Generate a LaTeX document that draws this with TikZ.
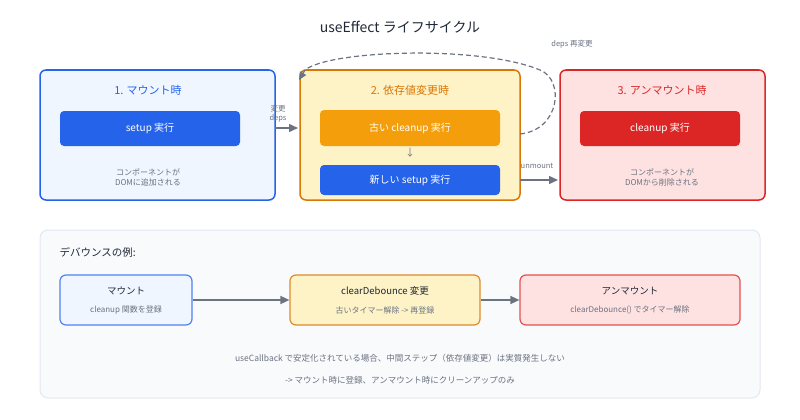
\documentclass[tikz,border=0pt]{standalone}
\usepackage{fontspec}
\setmainfont{Noto Sans CJK JP}
\usetikzlibrary{arrows.meta}
\definecolor{bfill}{HTML}{EFF6FF}\definecolor{bline}{HTML}{2563EB}
\definecolor{yfill}{HTML}{FEF3C7}\definecolor{yline}{HTML}{D97706}\definecolor{ybox}{HTML}{F59E0B}
\definecolor{rfill}{HTML}{FEE2E2}\definecolor{rline}{HTML}{DC2626}
\definecolor{gtxt}{HTML}{6B7280}\definecolor{dtxt}{HTML}{1F2937}\definecolor{arr}{HTML}{6B7280}
\definecolor{pfill}{HTML}{F8FAFC}\definecolor{pline}{HTML}{E2E8F0}
\begin{document}
\begin{tikzpicture}[x=1pt,y=-1pt,
 big/.style={draw,line width=1.5pt,rounded corners=6pt},
 inner/.style={rounded corners=4pt,text=white,font=\fontsize{10}{12}\selectfont},
 small/.style={draw,line width=1.2pt,rounded corners=6pt},
 ar/.style={-{Triangle[length=9pt,width=8pt]},line width=1.5pt,draw=arr},
 g/.style={text=gtxt,font=\fontsize{8}{10}\selectfont}]
\useasboundingbox (0,0) rectangle (800,420);
\node[text=dtxt,font=\fontsize{14}{16}\selectfont] (title) at (400,27) {useEffect ライフサイクル};
% boxes
\node[big,draw=bline,fill=bfill,minimum width=235pt,minimum height=130pt] (b1) at (157.5,135) {};
\node[big,draw=yline,fill=yfill,minimum width=220pt,minimum height=130pt] (b2) at (410,135) {};
\node[big,draw=rline,fill=rfill,minimum width=205pt,minimum height=130pt] (b3) at (662.5,135) {};
\node[text=bline,font=\fontsize{11}{13}\selectfont] (t1) at (148,90) {1. マウント時};
\node[text=yline,font=\fontsize{11}{13}\selectfont] (t2) at (410,90) {2. 依存値変更時};
\node[text=rline,font=\fontsize{11}{13}\selectfont] (t3) at (662,90) {3. アンマウント時};
\node[inner,fill=bline,minimum width=180pt,minimum height=35pt] (s1) at (150,128.5) {setup 実行};
\node[inner,fill=ybox,minimum width=180pt,minimum height=36pt] (c2) at (410,128) {古い cleanup 実行};
\node[text=gtxt,font=\fontsize{10}{12}\selectfont] (d2) at (410,153) {↓};
\node[inner,fill=bline,minimum width=180pt,minimum height=30pt] (s2) at (410,180) {新しい setup 実行};
\node[inner,fill=rline,minimum width=160pt,minimum height=35pt] (c3) at (660,128.5) {cleanup 実行};
\node[g,align=center] (n1) at (148,177) {コンポーネントが\\DOMに追加される};
\node[g,align=center] (n3) at (662,177) {コンポーネントが\\DOMから削除される};
% arrows
\coordinate (a1s) at (275,128); \coordinate (a1e) at (298,128);
\draw[ar] (a1s) -- (a1e);
\node[g,align=center,font=\fontsize{7.5}{9}\selectfont] (l1) at (278,114) {変更\\deps};
\coordinate (a2s) at (520,180); \coordinate (a2e) at (558,180);
\draw[ar] (a2s) -- (a2e);
\node[g,font=\fontsize{7.5}{9}\selectfont] (l2) at (537,166) {unmount};
\coordinate (ds) at (520,134); \coordinate (de) at (299,80);
\draw[arr,line width=1.2pt,dash pattern=on 5pt off 3pt,-{Triangle[length=8pt,width=7pt]}]
 (ds) .. controls (560,130) and (565,80) .. (540,70) .. controls (480,45) and (330,50) .. (305,70) -- (de);
\node[g,font=\fontsize{7.5}{9}\selectfont] (l3) at (572,44) {deps 再変更};
% bottom panel
\node[draw=pline,fill=pfill,line width=1pt,rounded corners=8pt,minimum width=720pt,minimum height=168pt] (panel) at (400,314) {};
\node[text=dtxt,font=\fontsize{10.5}{12}\selectfont,anchor=west] (ex) at (56,252) {デバウンスの例:};
\node[small,draw=bline!80,fill=bfill,minimum width=132pt,minimum height=50pt] (e1) at (126,300) {};
\node[small,draw=yline!85,fill=yfill,minimum width=190pt,minimum height=50pt] (e2) at (385,300) {};
\node[small,draw=rline!80,fill=rfill,minimum width=220pt,minimum height=50pt] (e3) at (630,300) {};
\node[text=dtxt,font=\fontsize{9.5}{11}\selectfont] at (126,291) {マウント};
\node[g] at (126,310) {cleanup 関数を登録};
\node[text=dtxt,font=\fontsize{9.5}{11}\selectfont] at (385,291) {clearDebounce 変更};
\node[g] at (385,310) {古いタイマー解除 -> 再登録};
\node[text=dtxt,font=\fontsize{9.5}{11}\selectfont] at (630,291) {アンマウント};
\node[g] at (630,310) {clearDebounce() でタイマー解除};
\draw[ar] (e1) -- (e2);
\draw[ar] (e2) -- (e3);
\node[g,font=\fontsize{8.5}{10}\selectfont] (f1) at (400,358) {useCallback で安定化されている場合、中間ステップ（依存値変更）は実質発生しない};
\node[g,font=\fontsize{8.5}{10}\selectfont] (f2) at (400,380) {-> マウント時に登録、アンマウント時にクリーンアップのみ};
\end{tikzpicture}
\end{document}
